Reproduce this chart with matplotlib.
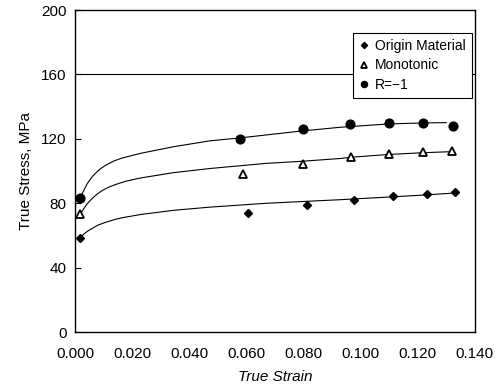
import matplotlib
matplotlib.use("Agg")
import matplotlib.pyplot as plt

plt.rcParams['font.family'] = ['Liberation Sans', 'DejaVu Sans']

# Measured data points
strain_orig = [0.0017, 0.0604, 0.0813, 0.0978, 0.1114, 0.1231, 0.1330]
stress_orig = [58.2, 74.1, 78.9, 82.0, 84.5, 85.7, 87.0]

strain_mono = [0.0017, 0.0587, 0.0799, 0.0966, 0.1099, 0.1219, 0.1320]
stress_mono = [73.1, 98.0, 104.1, 108.7, 110.6, 112.0, 112.4]

strain_r1 = [0.0017, 0.0578, 0.0799, 0.0963, 0.1100, 0.1219, 0.1322]
stress_r1 = [83.2, 119.7, 125.9, 129.0, 130.0, 129.6, 128.3]

# Fitted curves
curve_x_orig = [0.0017, 0.0030, 0.0045, 0.0060, 0.0080, 0.0106, 0.0135, 0.0165, 0.0229, 0.0344, 0.0473, 0.0671, 0.0811, 0.0928, 0.1008, 0.1114, 0.1230, 0.1324]
curve_y_orig = [58.2, 60.8, 62.8, 64.4, 66.4, 68.1, 69.7, 71.0, 73.0, 75.6, 77.6, 80.0, 81.2, 82.2, 83.0, 84.0, 85.2, 86.3]

curve_x_mono = [0.0017, 0.0028, 0.0042, 0.0060, 0.0077, 0.0095, 0.0118, 0.0141, 0.0180, 0.0229, 0.0344, 0.0473, 0.0671, 0.0788, 0.0928, 0.0968, 0.1097, 0.1219, 0.1310]
curve_y_mono = [73.1, 76.0, 79.6, 83.0, 85.7, 87.9, 90.0, 91.6, 93.8, 95.7, 99.0, 101.6, 104.8, 106.0, 107.8, 108.6, 110.3, 111.4, 112.0]

curve_x_r1 = [0.0017, 0.0025, 0.0042, 0.0057, 0.0071, 0.0088, 0.0106, 0.0135, 0.0165, 0.0229, 0.0344, 0.0473, 0.0578, 0.0788, 0.0928, 0.1100, 0.1220, 0.1300]
curve_y_r1 = [83.2, 86.0, 92.0, 95.8, 98.6, 101.3, 103.5, 106.2, 108.1, 111.0, 115.1, 118.8, 120.6, 124.8, 127.2, 129.3, 129.9, 130.1]

x_ticks = [0.0, 0.02, 0.04, 0.06, 0.08, 0.10, 0.12, 0.14]
x_ticklabels = ["0.000", "0.020", "0.040", "0.060", "0.080", "0.100", "0.120", "0.140"]
y_ticks = [0, 40, 80, 120, 160, 200]

fig = plt.figure(figsize=(5.04, 3.89), dpi=100)
ax = fig.add_axes([0.149, 0.1465, 0.793, 0.8275])

ax.axhline(160, color='black', lw=0.8, zorder=1)

for cx, cy in [(curve_x_orig, curve_y_orig), (curve_x_mono, curve_y_mono), (curve_x_r1, curve_y_r1)]:
    ax.plot(cx, cy, color='black', lw=0.8, zorder=2)

ax.plot(strain_orig, stress_orig, linestyle='none', marker='D', markersize=4.5,
        color='black', label='Origin Material', zorder=3)
ax.plot(strain_mono, stress_mono, linestyle='none', marker='^', markersize=6,
        markerfacecolor='white', markeredgecolor='black', markeredgewidth=1.3,
        label='Monotonic', zorder=3)
ax.plot(strain_r1, stress_r1, linestyle='none', marker='o', markersize=6.3,
        color='black', label='R=\u22121', zorder=3)

ax.set_xlim(0, 0.14)
ax.set_ylim(0, 200)
ax.set_xticks(x_ticks)
ax.set_xticklabels(x_ticklabels)
ax.set_yticks(y_ticks)
ax.tick_params(direction='in', length=4, width=0.8, labelsize=11, pad=6)
ax.tick_params(axis='x', length=0, pad=11)
for s in ax.spines.values():
    s.set_linewidth(1.0)

ax.set_xlabel('True Strain', fontsize=11, fontstyle='italic', labelpad=6)
ax.set_ylabel('True Stress, MPa', fontsize=11, labelpad=6)

leg = ax.legend(loc='upper right', bbox_to_anchor=(0.993, 0.93), fontsize=10,
                frameon=True, fancybox=False, framealpha=1, edgecolor='black',
                handlelength=0.6, handletextpad=0.5, borderpad=0.45,
                labelspacing=0.4, markerscale=0.7, borderaxespad=0)
leg.get_frame().set_linewidth(0.8)
leg.set_zorder(5)

fig.savefig('out.png', dpi=100)
